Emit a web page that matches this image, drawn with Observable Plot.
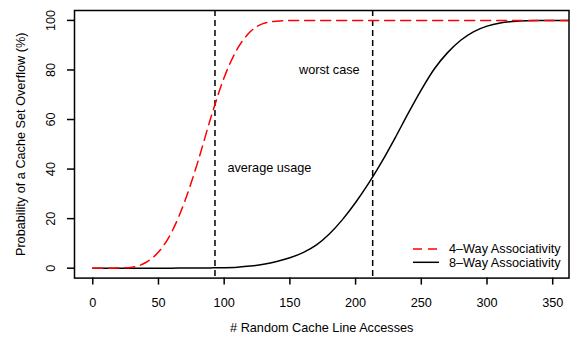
<!DOCTYPE html>
<html><head><meta charset="utf-8">
<script src="https://cdn.jsdelivr.net/npm/d3@7"></script>
<script src="https://cdn.jsdelivr.net/npm/@observablehq/plot@0.6"></script>
<style>
html,body{margin:0;padding:0;background:#fff;}
#chart svg{display:block;}
</style>
</head><body><div id="chart"></div>
<script>
const accesses = [0,10,20,30,40,50,60,70,80,90,100,110,120,130,140,150,160,170,180,190,200,210,220,230,240,250,260,270,280,290,300,310,320,330,340,350,360,370];
const way4 = [0,0,0.05,0.4,2.2,6.5,14.5,27,43,61,77,88.5,95.5,98.8,99.7,99.95,100,100,100,100,100,100,100,100,100,100,100,100,100,100,100,100,100,100,100,100,100,100];
const way8 = [0,0,0,0,0,0,0.02,0.05,0.08,0.12,0.2,0.4,0.85,1.6,2.7,4.2,6.3,9.3,13.8,19.6,26.5,34.3,43,52.5,62.5,72,80.5,87,92,95.5,97.7,99,99.6,99.9,100,100,100,100];
const seriesNames = ["4\u2013Way Associativity", "8\u2013Way Associativity"];
const xTicks = [0,50,100,150,200,250,300,350];
const yTicks = [0,20,40,60,80,100];
const markerLines = [93, 213];
const annotations = [
  {x: 180, y: 80, label: "worst case"},
  {x: 134.4, y: 40.6, label: "average usage"}
];
const xLabel = "# Random Cache Line Accesses";
const yLabel = "Probability of a Cache Set Overflow (%)";

const rows4 = accesses.map((x, i) => ({x, p: way4[i], s: seriesNames[0]}));
const rows8 = accesses.map((x, i) => ({x, p: way8[i], s: seriesNames[1]}));

const FONT = "'Liberation Sans', Arial, Helvetica, sans-serif";
const FS = 12.7;

const chart = Plot.plot({
  width: 571,
  height: 339,
  marginLeft: 74,
  marginRight: 2.5,
  marginTop: 10,
  marginBottom: 61.4,
  style: {fontFamily: FONT, fontSize: FS + "px", color: "black", background: "white"},
  x: {domain: [-13.9, 362.4], label: null},
  y: {domain: [-4, 104], label: null},
  marks: [
    Plot.ruleX(markerLines, {stroke: "black", strokeWidth: 1.5, strokeDasharray: "6,4"}),
    Plot.line(rows8, {x: "x", y: "p", stroke: "black", strokeWidth: 1.5, curve: "monotone-x", clip: true}),
    Plot.line(rows4, {x: "x", y: "p", stroke: "#ff0000", strokeWidth: 1.5, strokeDasharray: "10,6", curve: "monotone-x", clip: true}),
    Plot.text(annotations, {x: "x", y: "y", text: "label", fontSize: FS, fill: "black"}),
    Plot.frame({stroke: "black", strokeWidth: 1.5}),
    Plot.axisX({ticks: xTicks, tickSize: 7, tickPadding: 12.5, strokeWidth: 1.5, fontSize: FS, label: null, tickFormat: d => String(d)}),
    Plot.axisY({ticks: yTicks, tickSize: 7, strokeWidth: 1.5, label: null, tickFormat: () => ""}),
    Plot.text(yTicks, {y: d => d, frameAnchor: "left", dx: -24, rotate: -90, textAnchor: "middle", text: d => String(d), fontSize: FS, fill: "black"}),
    Plot.text([xLabel], {frameAnchor: "bottom", dy: 54.1, textAnchor: "middle", text: d => d, fontSize: FS, fill: "black"}),
    Plot.text([yLabel], {frameAnchor: "left", dx: -54, rotate: -90, textAnchor: "middle", text: d => d, fontSize: FS, fill: "black"})
  ]
});

document.getElementById("chart").appendChild(chart);

// Legend inside plot area (bottom-right)
const svg = d3.select(chart);
const legend = svg.append("g")
  .attr("font-family", FONT)
  .style("font-size", FS + "px")
  .attr("text-anchor", "start");
const legendStyles = [
  {name: seriesNames[0], stroke: "#ff0000", dash: "9,6", y: 249},
  {name: seriesNames[1], stroke: "black", dash: null, y: 262.3}
];
legendStyles.forEach(d => {
  const line = legend.append("line")
    .attr("x1", 413).attr("x2", 439).attr("y1", d.y).attr("y2", d.y)
    .attr("stroke", d.stroke).attr("stroke-width", 1.5);
  if (d.dash) line.attr("stroke-dasharray", d.dash);
  legend.append("text")
    .attr("x", 449).attr("y", d.y).attr("dy", "0.35em")
    .attr("text-anchor", "start")
    .attr("fill", "black").text(d.name);
});
</script>
</body></html>
